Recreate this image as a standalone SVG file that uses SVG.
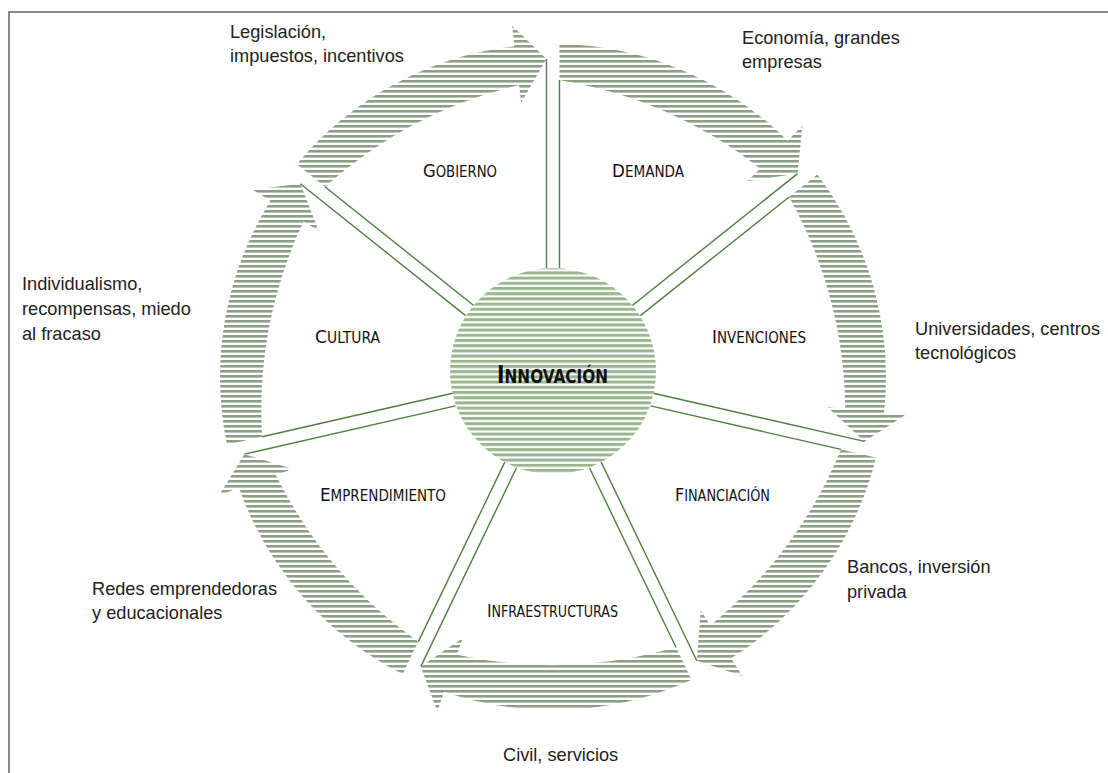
<svg xmlns="http://www.w3.org/2000/svg" xmlns:xlink="http://www.w3.org/1999/xlink" width="1108" height="773" viewBox="0 0 1108 773">
  <style>
    .frame { fill: none; stroke: #8a8a8a; stroke-width: 2; }
    .spoke { stroke: #4f7f3f; stroke-width: 1.4; fill: none; }
    .sector { font-family: "Liberation Sans Narrow", "DejaVu Sans Condensed", "Liberation Sans", sans-serif; fill: #111; }
    .sector .cap { font-size: 18.5px; }
    .sector .sc { font-size: 15px; }
    .core-label { font-family: "Liberation Sans Narrow", "DejaVu Sans Condensed", "Liberation Sans", sans-serif; font-weight: bold; fill: #111; }
    .note { font-family: "Liberation Sans", Arial, sans-serif; font-size: 18.2px; fill: #222; }
  </style>
  <defs>
    <!-- horizontal hatching used by the cycle arrows -->
    <pattern id="ringStripes" patternUnits="userSpaceOnUse" x="0" y="0" width="10" height="5">
      <rect x="0" y="0" width="10" height="2.6" fill="#8c9e86"/>
    </pattern>
    <!-- horizontal hatching of the central disc -->
    <pattern id="coreStripes" patternUnits="userSpaceOnUse" x="0" y="1" width="10" height="5.2">
      <rect x="0" y="0" width="10" height="3" fill="#9bb68e"/>
    </pattern>
    <!-- one curved arrow of the cycle, centre at origin, running clockwise from the upper spoke to the next -->
    <path id="cycleArrow" d="M6.5,-332.9 A333,333 0 0 1 234.6,-236.3 L249.4,-251.2 L244.6,-203.4 L194.5,-195.9 L207.2,-208.6 A448,448 0 0 0 6.5,-296.9 Z"/>
    <clipPath id="cycleClip">
      <use xlink:href="#cycleArrow" transform="translate(553 377) rotate(0)"/>
      <use xlink:href="#cycleArrow" transform="translate(553 377) rotate(51.4286)"/>
      <use xlink:href="#cycleArrow" transform="translate(553 377) rotate(102.857)"/>
      <use xlink:href="#cycleArrow" transform="translate(553 377) rotate(154.286)"/>
      <use xlink:href="#cycleArrow" transform="translate(553 377) rotate(205.714)"/>
      <use xlink:href="#cycleArrow" transform="translate(553 377) rotate(257.143)"/>
      <use xlink:href="#cycleArrow" transform="translate(553 377) rotate(308.571)"/>
    </clipPath>
  </defs>

  <rect width="1108" height="773" fill="#ffffff"/>
  <rect class="frame" x="9" y="12" width="1110" height="780"/>

  <!-- clockwise cycle of arrows -->
  <g id="cycle-arrows">
    <rect x="200" y="20" width="720" height="710" fill="url(#ringStripes)" clip-path="url(#cycleClip)"/>
  </g>

  <!-- double spokes from the core to the ring: left rail ends at an arrow tip, right rail at the next arrow's tail -->
  <g id="connectors">
    <g transform="translate(553 377) rotate(0)">
      <line class="spoke" x1="-6.5" y1="-109" x2="-6.5" y2="-318"/>
      <line class="spoke" x1="6.5" y1="-109" x2="6.5" y2="-296.9"/>
    </g>
    <g transform="translate(553 377) rotate(51.4286)">
      <line class="spoke" x1="-6.5" y1="-106.6" x2="-6.5" y2="-318"/>
      <line class="spoke" x1="6.5" y1="-106.6" x2="6.5" y2="-296.9"/>
    </g>
    <g transform="translate(553 377) rotate(102.857)">
      <line class="spoke" x1="-6.5" y1="-101.5" x2="-6.5" y2="-318"/>
      <line class="spoke" x1="6.5" y1="-101.5" x2="6.5" y2="-296.9"/>
    </g>
    <g transform="translate(553 377) rotate(154.286)">
      <line class="spoke" x1="-6.5" y1="-97.6" x2="-6.5" y2="-318"/>
      <line class="spoke" x1="6.5" y1="-97.6" x2="6.5" y2="-296.9"/>
    </g>
    <g transform="translate(553 377) rotate(205.714)">
      <line class="spoke" x1="-6.5" y1="-97.6" x2="-6.5" y2="-318"/>
      <line class="spoke" x1="6.5" y1="-97.6" x2="6.5" y2="-296.9"/>
    </g>
    <g transform="translate(553 377) rotate(257.143)">
      <line class="spoke" x1="-6.5" y1="-101.5" x2="-6.5" y2="-318"/>
      <line class="spoke" x1="6.5" y1="-101.5" x2="6.5" y2="-296.9"/>
    </g>
    <g transform="translate(553 377) rotate(308.571)">
      <line class="spoke" x1="-6.5" y1="-106.6" x2="-6.5" y2="-318"/>
      <line class="spoke" x1="6.5" y1="-106.6" x2="6.5" y2="-296.9"/>
    </g>
  </g>

  <g id="innovacion">
    <circle cx="553" cy="371" r="103" fill="url(#coreStripes)"/>
    <text class="core-label" x="497" y="383" textLength="111" lengthAdjust="spacingAndGlyphs"><tspan font-size="25">I</tspan><tspan font-size="19">NNOVACIÓN</tspan></text>
  </g>

  <g id="gobierno">
    <text class="sector" x="423" y="177" textLength="74" lengthAdjust="spacingAndGlyphs"><tspan class="cap">G</tspan><tspan class="sc">OBIERNO</tspan></text>
  </g>
  <g id="demanda">
    <text class="sector" x="612" y="177" textLength="72" lengthAdjust="spacingAndGlyphs"><tspan class="cap">D</tspan><tspan class="sc">EMANDA</tspan></text>
  </g>
  <g id="invenciones">
    <text class="sector" x="712" y="343" textLength="94" lengthAdjust="spacingAndGlyphs"><tspan class="cap">I</tspan><tspan class="sc">NVENCIONES</tspan></text>
  </g>
  <g id="financiacion">
    <text class="sector" x="675" y="501" textLength="95" lengthAdjust="spacingAndGlyphs"><tspan class="cap">F</tspan><tspan class="sc">INANCIACIÓN</tspan></text>
  </g>
  <g id="infraestructuras">
    <text class="sector" x="487" y="617" textLength="131" lengthAdjust="spacingAndGlyphs"><tspan class="cap">I</tspan><tspan class="sc">NFRAESTRUCTURAS</tspan></text>
  </g>
  <g id="emprendimiento">
    <text class="sector" x="320" y="501" textLength="126" lengthAdjust="spacingAndGlyphs"><tspan class="cap">E</tspan><tspan class="sc">MPRENDIMIENTO</tspan></text>
  </g>
  <g id="cultura">
    <text class="sector" x="315" y="343" textLength="65" lengthAdjust="spacingAndGlyphs"><tspan class="cap">C</tspan><tspan class="sc">ULTURA</tspan></text>
  </g>

  <!-- factors written outside the ring -->
  <g id="notes">
    <text class="note" x="230" y="38">Legislación,</text>
    <text class="note" x="230" y="62">impuestos, incentivos</text>
    <text class="note" x="742" y="44">Economía, grandes</text>
    <text class="note" x="742" y="68">empresas</text>
    <text class="note" x="915" y="335">Universidades, centros</text>
    <text class="note" x="915" y="359">tecnológicos</text>
    <text class="note" x="22" y="290">Individualismo,</text>
    <text class="note" x="22" y="315">recompensas, miedo</text>
    <text class="note" x="22" y="340">al fracaso</text>
    <text class="note" x="847" y="573">Bancos, inversión</text>
    <text class="note" x="847" y="598">privada</text>
    <text class="note" x="92" y="595">Redes emprendedoras</text>
    <text class="note" x="92" y="619">y educacionales</text>
    <text class="note" x="503" y="761">Civil, servicios</text>
  </g>
</svg>
